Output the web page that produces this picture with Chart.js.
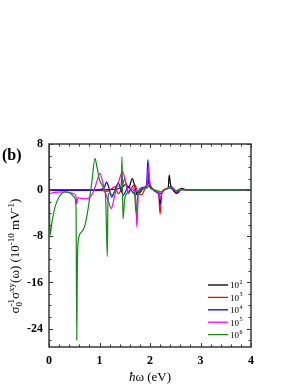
<!DOCTYPE html>
<html>
<head>
<meta charset="utf-8">
<script src="https://cdn.jsdelivr.net/npm/chart.js@4.4.0/dist/chart.umd.min.js"></script>
<style>
  html, body { margin: 0; padding: 0; background: #fff; }
  #wrap { width: 300px; height: 388px; }
</style>
</head>
<body>
<div id="wrap"><canvas id="chart" width="300" height="388"></canvas></div>
<script>
// legend exponents (labels read 10^n) and colours
var seriesExp = ['2', '3', '4', '5', '6'];
var seriesColors = ['#000000', '#ff0000', '#0000ff', '#ff00ff', '#138a13'];

var xTicks = [0, 1, 2, 3, 4];
var yTicks = [-24, -16, -8, 0, 8];

// 10^2
var blackX = [0, 0.9, 1.2, 1.35, 1.45, 1.52, 1.58, 1.65, 1.7, 1.74, 1.8, 1.86, 1.92, 1.95, 1.97, 2.0, 2.05, 2.12, 2.18, 2.21, 2.26, 2.32, 2.36, 2.38, 2.41, 2.46, 2.52, 2.57, 2.63, 2.7, 2.8, 3.0, 3.3, 4.0];
var blackY = [0, 0, 0.1, 0.2, 0.5, 1.0, 0.4, 2.0, 0.6, -0.6, -0.4, 0.2, 0.4, 1.0, 1.8, 0.8, 0.2, -0.3, -0.5, -0.6, -0.1, 0.2, 0.3, 2.6, 0.8, 0.2, -0.6, -0.1, 0.3, 0.1, 0.05, 0, 0, 0];

// 10^3
var redX = [0, 1.0, 1.15, 1.22, 1.31, 1.37, 1.44, 1.5, 1.57, 1.63, 1.7, 1.76, 1.83, 1.9, 1.95, 1.97, 2.0, 2.06, 2.12, 2.17, 2.2, 2.23, 2.28, 2.35, 2.4, 2.45, 2.5, 2.58, 2.65, 2.75, 2.9, 3.1, 4.0];
var redY = [0, 0, -0.2, 0.1, 0.6, -0.6, 0.3, 2.0, -0.6, 0.4, 0.9, -0.4, -0.8, 0.2, 1.0, 1.6, 0.5, 0.1, -0.2, -0.6, -4.2, -0.5, 0.1, 0.3, 0.5, 0.1, -0.4, 0.2, 0.1, 0.05, 0, 0, 0];

// 10^4
var blueX = [0, 0.95, 1.05, 1.1, 1.14, 1.19, 1.24, 1.3, 1.37, 1.42, 1.47, 1.52, 1.57, 1.62, 1.67, 1.73, 1.8, 1.87, 1.93, 1.96, 1.98, 2.02, 2.08, 2.14, 2.18, 2.2, 2.23, 2.3, 2.37, 2.42, 2.48, 2.55, 2.62, 2.7, 2.85, 3.0, 4.0];
var blueY = [0, 0, 0.2, 0.6, 1.4, 0.3, -1.2, -0.2, 1.2, 0.2, -0.9, -0.2, 0.6, 0.1, -0.5, -0.8, 0.2, 0.5, 0.8, 5.3, 1.5, 0.4, 0, -0.4, -1.0, -2.5, -0.6, 0.1, 0.4, 0.6, -0.2, -0.5, 0.2, 0.1, 0, 0, 0];

// 10^5
var magX = [0, 0.015, 0.1, 0.3, 0.48, 0.53, 0.55, 0.57, 0.62, 0.7, 0.8, 0.88, 0.95, 1.01, 1.06, 1.12, 1.18, 1.23, 1.3, 1.38, 1.46, 1.52, 1.58, 1.64, 1.69, 1.72, 1.74, 1.77, 1.83, 1.9, 1.94, 1.97, 2.0, 2.06, 2.13, 2.18, 2.2, 2.24, 2.3, 2.38, 2.45, 2.52, 2.6, 2.7, 2.9, 3.2, 4.0];
var magY = [8, -0.6, -0.4, -0.3, -0.6, -1.0, -2.4, -1.3, -1.4, -1.5, -1.3, -0.3, 1.6, 2.9, 1.5, -0.5, -2.0, -3.2, -1.0, 1.5, 3.2, 1.2, -0.6, 0.5, 0.2, -2.0, -6.4, -0.6, 0.2, 0.4, 1.0, 4.2, 1.2, 0.2, -0.3, -0.8, -1.6, -0.4, 0.1, 0.4, 0.5, -0.3, 0.1, 0.05, 0, 0, 0];

// 10^6
var greenX = [0, 0.02, 0.06, 0.12, 0.2, 0.32, 0.42, 0.5, 0.535, 0.55, 0.56, 0.58, 0.65, 0.72, 0.78, 0.85, 0.91, 0.95, 1.0, 1.07, 1.12, 1.155, 1.165, 1.19, 1.25, 1.32, 1.4, 1.43, 1.445, 1.465, 1.5, 1.56, 1.63, 1.69, 1.725, 1.76, 1.82, 1.9, 1.96, 1.99, 2.05, 2.15, 2.22, 2.3, 2.38, 2.45, 2.55, 2.65, 2.8, 3.0, 4.0];
var greenY = [8, -7.8, -5.5, -2.9, -1.2, -0.3, -0.5, -1.2, -3.0, -26, -14, -8.7, -7.2, -5.8, -2.9, 1.5, 5.5, 4.0, 1.8, 0.6, -1.0, -11.5, -3, -0.5, -0.8, 0, 0.4, 1.0, 5.8, -5.0, -1.5, -0.4, 0.2, -0.3, -4.0, -0.8, 0.1, 0.3, 0.5, 1.0, 0.2, -0.1, -0.3, 0.1, 0.4, 0.1, -0.1, 0.1, 0, 0, 0];

var allX = [blackX, redX, blueX, magX, greenX];
var allY = [blackY, redY, blueY, magY, greenY];

function pts(xs, ys) {
    return xs.map(function (x, i) { return { x: x, y: ys[i] }; });
}

var SERIF = '"Liberation Serif", "Times New Roman", serif';

// draw a run of text pieces with sub/superscripts
function richText(ctx, parts, x, y, size) {
    var small = Math.round(size * 0.68);
    function fontFor(p) {
        var s = (p.k === 'sup' || p.k === 'sub') ? small : size;
        return (p.i ? 'italic ' : '') + s + 'px ' + SERIF;
    }
    var total = 0;
    parts.forEach(function (p) {
        ctx.font = fontFor(p);
        if (!p.noAdv) total += ctx.measureText(p.t).width;
    });
    var cx = x - total / 2;
    parts.forEach(function (p) {
        ctx.font = fontFor(p);
        var dy = p.k === 'sup' ? -size * 0.42 : (p.k === 'sub' ? size * 0.25 : 0);
        ctx.fillText(p.t, cx, y + dy);
        if (!p.noAdv) cx += ctx.measureText(p.t).width;
    });
}

var decor = {
    id: 'decor',
    afterDatasetsDraw: function (chart) {
        var ctx = chart.ctx, a = chart.chartArea;
        var xs = chart.scales.x, ys = chart.scales.y;
        ctx.save();
        ctx.strokeStyle = '#333';
        ctx.lineWidth = 1;
        ctx.beginPath();
        // inward ticks, x: minor every 0.2
        for (var i = 0; i <= 20; i++) {
            var v = i * 0.2;
            var px = Math.round(xs.getPixelForValue(v)) + 0.5;
            var len = (i % 5 === 0) ? 4 : 2.5;
            ctx.moveTo(px, a.bottom); ctx.lineTo(px, a.bottom - len);
            ctx.moveTo(px, a.top); ctx.lineTo(px, a.top + len);
        }
        // y: minor every 2
        for (var yv = -26; yv <= 8; yv += 2) {
            var py = Math.round(ys.getPixelForValue(yv)) + 0.5;
            var l2 = (yv % 8 === 0) ? 4 : 2.5;
            ctx.moveTo(a.left, py); ctx.lineTo(a.left + l2, py);
            ctx.moveTo(a.right, py); ctx.lineTo(a.right - l2, py);
        }
        ctx.stroke();
        // frame
        ctx.lineWidth = 1.5;
        ctx.strokeStyle = '#3a3a3a';
        ctx.strokeRect(a.left, a.top, a.right - a.left, a.bottom - a.top);

        ctx.fillStyle = '#000';
        ctx.textBaseline = 'alphabetic';
        ctx.textAlign = 'left';

        // panel tag
        ctx.font = 'bold 16px ' + SERIF;
        ctx.fillText('(b)', 2, 160);

        // x title
        richText(ctx, [
            { t: 'ħ', i: true },
            { t: 'ω (eV)' }
        ], (a.left + a.right) / 2, 381, 13);

        // y title, rotated
        ctx.save();
        ctx.translate(14, 256);
        ctx.rotate(-Math.PI / 2);
        richText(ctx, [
            { t: 'σ' },
            { t: '0', k: 'sub', noAdv: true },
            { t: '-1', k: 'sup' },
            { t: 'σ' },
            { t: 'xy', k: 'sup' },
            { t: '(ω) (10' },
            { t: '-10', k: 'sup' },
            { t: ' mV' },
            { t: '-1', k: 'sup' },
            { t: ')' }
        ], 0, 5, 13);
        ctx.restore();

        // legend
        chart.data.datasets.forEach(function (ds, k) {
            var ly = 285 + k * 12.4;
            ctx.strokeStyle = ds.borderColor;
            ctx.lineWidth = 1.3;
            ctx.beginPath();
            ctx.moveTo(208, ly); ctx.lineTo(228, ly);
            ctx.stroke();
            ctx.fillStyle = '#000';
            ctx.textBaseline = 'middle';
            ctx.font = '9px ' + SERIF;
            ctx.fillText('10', 230, ly + 1);
            var w = ctx.measureText('10').width;
            ctx.font = '6px ' + SERIF;
            ctx.fillText(seriesExp[k], 230 + w + 0.5, ly - 2.5);
        });
        ctx.restore();
    }
};

var datasets = allX.map(function (xs, k) {
    return {
        label: '10^' + seriesExp[k],
        data: pts(xs, allY[k]),
        borderColor: seriesColors[k],
        borderWidth: 1.2,
        pointRadius: 0,
        fill: false,
        cubicInterpolationMode: 'monotone',
        order: 5 - k
    };
});

var tickFont = { family: SERIF, weight: 'bold', size: 12 };

new Chart(document.getElementById('chart').getContext('2d'), {
    type: 'line',
    data: { datasets: datasets },
    options: {
        responsive: false,
        animation: false,
        devicePixelRatio: 1,
        layout: { padding: { left: 0, top: 144, right: 49, bottom: 0 } },
        plugins: { legend: { display: false }, tooltip: { enabled: false } },
        scales: {
            x: {
                type: 'linear', min: 0, max: 4,
                grid: { display: false, drawTicks: false },
                border: { display: false },
                ticks: { font: tickFont, color: '#000', padding: 7 },
                afterBuildTicks: function (s) { s.ticks = xTicks.map(function (v) { return { value: v }; }); },
                afterFit: function (s) { s.height = 41; }
            },
            y: {
                type: 'linear', min: -27.2, max: 8,
                grid: { display: false, drawTicks: false },
                border: { display: false },
                ticks: { font: tickFont, color: '#000', padding: 6 },
                afterBuildTicks: function (s) { s.ticks = yTicks.map(function (v) { return { value: v }; }); },
                afterFit: function (s) { s.width = 49; }
            }
        }
    },
    plugins: [decor]
});
</script>
</body>
</html>
